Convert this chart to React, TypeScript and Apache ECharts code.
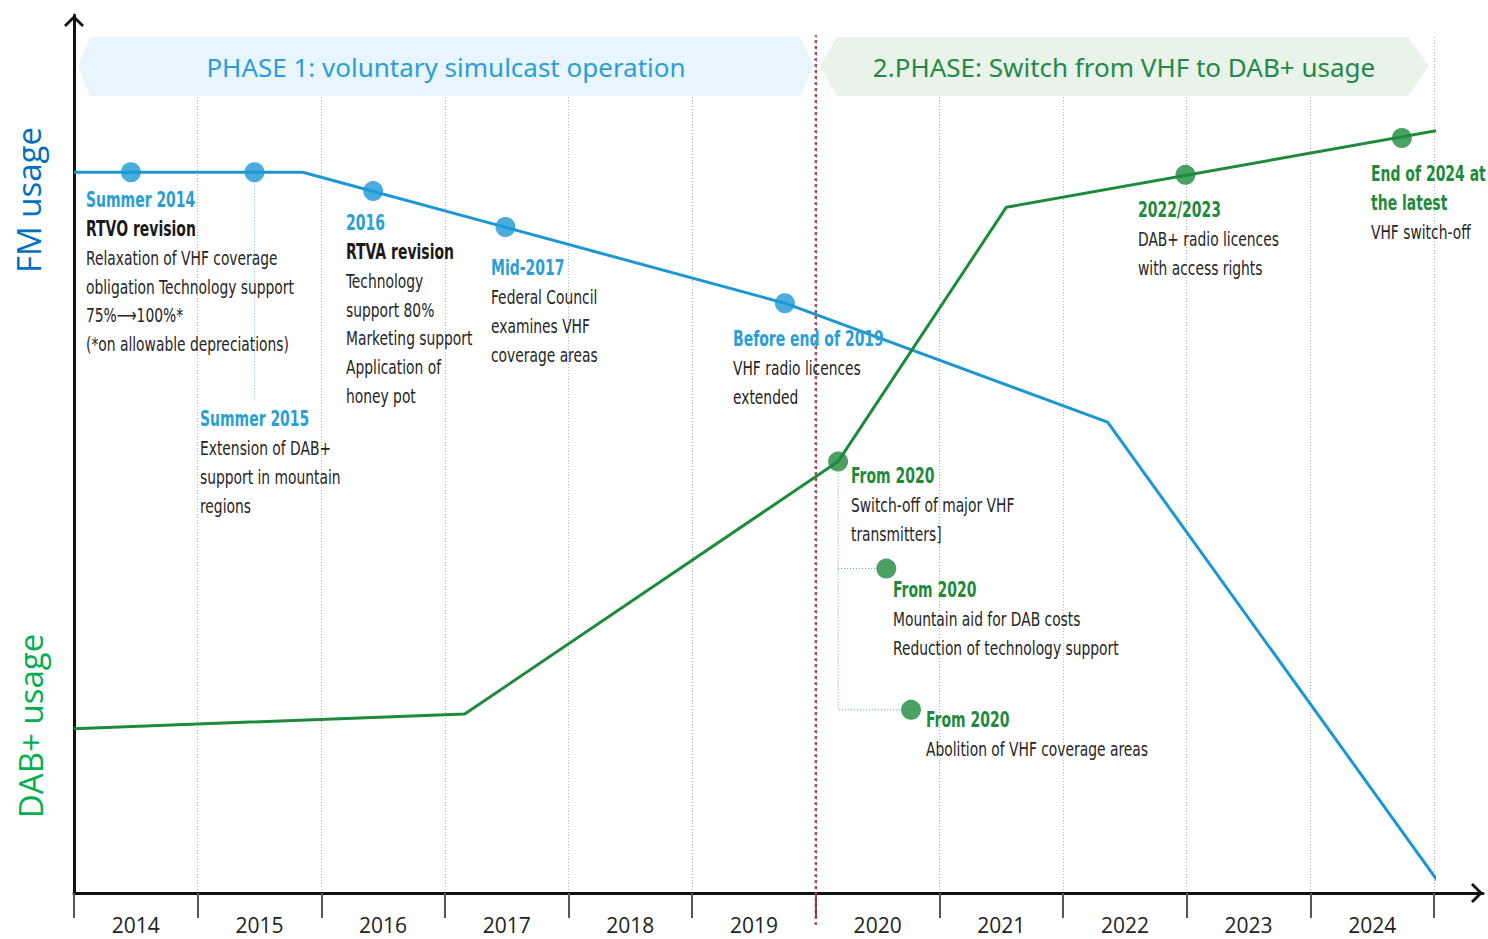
import React, { useEffect, useRef } from "react";
import * as echarts from "echarts";

// ---------- data ----------
const years = ["2014", "2015", "2016", "2017", "2018", "2019", "2020", "2021", "2022", "2023", "2024"];

// FM usage curve [year, level]
const fmLine = [
  [2014.0, 84.2],
  [2015.85, 84.2],
  [2019.75, 68.9],
  [2022.36, 55.0],
  [2025.04, 1.2],
];
// DAB+ usage curve [year, level]
const dabLine = [
  [2014.0, 19.2],
  [2017.16, 20.9],
  [2020.18, 50.4],
  [2021.54, 80.1],
  [2025.15, 89.4],
];
const fmMilestones = [
  [2014.46, 84.2],
  [2015.46, 84.2],
  [2016.42, 82.0],
  [2017.49, 77.8],
  [2019.75, 68.9],
];
const dabMilestones = [
  [2020.18, 50.4],
  [2020.57, 37.9],
  [2020.77, 21.4],
  [2022.99, 83.9],
  [2024.74, 88.2],
];
const fmConnector = [
  [2015.46, 84.2],
  [2015.46, 57.6],
];
const dabConnectorA = [
  [2020.18, 49.0],
  [2020.18, 21.4],
  [2020.77, 21.4],
];
const dabConnectorB = [
  [2020.18, 37.9],
  [2020.57, 37.9],
];
const phaseSwitchLine = [
  [2020, -3.7],
  [2020, 100.2],
];

const phase1Text = "PHASE 1: voluntary simulcast operation";
const phase2Text = "2.PHASE: Switch from VHF to DAB+ usage";
const fmAxisText = "FM usage";
const dabAxisText = "DAB+ usage";

type Note = { title: string[]; subtitle?: string; body: string[]; tone: "fm" | "dab"; x: number; y: number };
const notes: Note[] = [
  { title: ["Summer 2014"], subtitle: "RTVO revision", body: ["Relaxation of VHF coverage", "obligation Technology support", "75%\u27F6100%*", "(*on allowable depreciations)"], tone: "fm", x: 86, y: 200 },
  { title: ["2016"], subtitle: "RTVA revision", body: ["Technology", "support 80%", "Marketing support", "Application of", "honey pot"], tone: "fm", x: 346, y: 223 },
  { title: ["Mid-2017"], body: ["Federal Council", "examines VHF", "coverage areas"], tone: "fm", x: 491, y: 268 },
  { title: ["Before end of 2019"], body: ["VHF radio licences", "extended"], tone: "fm", x: 733, y: 339 },
  { title: ["Summer 2015"], body: ["Extension of DAB+", "support in mountain", "regions"], tone: "fm", x: 200, y: 419 },
  { title: ["From 2020"], body: ["Switch-off of major VHF", "transmitters]"], tone: "dab", x: 851, y: 476 },
  { title: ["From 2020"], body: ["Mountain aid for DAB costs", "Reduction of technology support"], tone: "dab", x: 893, y: 590 },
  { title: ["From 2020"], body: ["Abolition of VHF coverage areas"], tone: "dab", x: 926, y: 720 },
  { title: ["2022/2023"], body: ["DAB+ radio licences", "with access rights"], tone: "dab", x: 1138, y: 210 },
  { title: ["End of 2024 at", "the latest"], body: ["VHF switch-off"], tone: "dab", x: 1371, y: 174 },
];

// ---------- styles ----------
const FM_BLUE = "#1b97d4";
const DAB_GREEN = "#1e8a3c";
const HEAD_BLUE = "#2a9ed6";
const BODY = "#262626";
const NARROW = "'Liberation Sans Narrow', 'DejaVu Sans Condensed', sans-serif";
const LINE_H = 28.8;
const HEAD_SQUEEZE = 0.74;
const BODY_SQUEEZE = 0.77;
const chevron = "path://M0,10 L10,0 L20,10 L18,12 L10,4 L2,12 Z";

function buildNoteGraphics() {
  const els: any[] = [];
  notes.forEach((n) => {
    let row = 0;
    const headColor = n.tone === "fm" ? HEAD_BLUE : DAB_GREEN;
    n.title.forEach((t) => {
      els.push({
        type: "text", x: n.x, y: n.y + row * LINE_H, z: 100, scaleX: HEAD_SQUEEZE,
        style: { text: t, fill: headColor, fontFamily: NARROW, fontWeight: "bold", fontSize: 21, align: "left", verticalAlign: "middle" },
      });
      row++;
    });
    if (n.subtitle) {
      els.push({
        type: "text", x: n.x, y: n.y + row * LINE_H, z: 100, scaleX: HEAD_SQUEEZE,
        style: { text: n.subtitle, fill: "#1a1a1a", fontFamily: NARROW, fontWeight: "bold", fontSize: 21, align: "left", verticalAlign: "middle" },
      });
      row++;
    }
    n.body.forEach((t) => {
      els.push({
        type: "text", x: n.x, y: n.y + row * LINE_H, z: 100, scaleX: BODY_SQUEEZE,
        style: { text: t, fill: BODY, fontFamily: NARROW, fontSize: 20, align: "left", verticalAlign: "middle" },
      });
      row++;
    });
  });
  return els;
}

export default function App() {
  const ref = useRef<HTMLDivElement>(null);
  useEffect(() => {
    if (!ref.current) return;
    const chart = echarts.init(ref.current, undefined, { renderer: "svg" });
    const option: any = {
      animation: false,
      backgroundColor: "#ffffff",
      grid: [
        { left: 74, right: 54, top: 37, bottom: 46 },
        { left: 74, right: 5, top: 15, bottom: 46 },
      ],
      xAxis: [
        {
          type: "category", gridIndex: 0, data: years, boundaryGap: true,
          axisLine: { show: false },
          axisTick: { show: true, interval: 0, length: 25, lineStyle: { color: "#555", width: 2 } },
          axisLabel: { interval: 0, fontSize: 21, lineHeight: 21, color: "#222", margin: 21, fontFamily: "'Open Sans', 'Noto Sans', sans-serif" },
          splitLine: { show: true, interval: 0, lineStyle: { type: [1, 2], color: "#b0b0b0", width: 1 } },
        },
        { type: "value", gridIndex: 0, min: 2014, max: 2025, show: false },
        {
          type: "value", gridIndex: 1, min: 0, max: 1,
          axisLine: { show: true, symbol: ["none", chevron], symbolSize: [20, 12], symbolOffset: [0, -6], lineStyle: { color: "#111", width: 3 } },
          axisTick: { show: false }, axisLabel: { show: false }, splitLine: { show: false },
        },
      ],
      yAxis: [
        { type: "value", gridIndex: 0, min: 0, max: 100, show: false },
        {
          type: "value", gridIndex: 1, min: 0, max: 1,
          axisLine: { show: true, symbol: ["none", chevron], symbolSize: [20, 12], symbolOffset: [0, -6], lineStyle: { color: "#111", width: 3 } },
          axisTick: { show: false }, axisLabel: { show: false }, splitLine: { show: false },
        },
      ],
      series: [
        {
          type: "line", xAxisIndex: 1, yAxisIndex: 0, data: phaseSwitchLine, symbol: "none", clip: false, z: 3,
          lineStyle: { color: "#b03040", width: 2.5, type: [2.5, 3.5] },
        },
        {
          type: "line", xAxisIndex: 1, yAxisIndex: 0, data: fmConnector, symbol: "none", clip: false, z: 3,
          lineStyle: { color: "#7fc4e6", width: 1, type: [1, 2] },
        },
        {
          type: "line", xAxisIndex: 1, yAxisIndex: 0, data: dabConnectorA, symbol: "none", clip: false, z: 3,
          lineStyle: { color: "#5aa870", width: 1, type: [1, 2] },
        },
        {
          type: "line", xAxisIndex: 1, yAxisIndex: 0, data: dabConnectorB, symbol: "none", clip: false, z: 3,
          lineStyle: { color: "#5aa870", width: 1, type: [1, 2] },
        },
        {
          name: "FM usage", type: "line", xAxisIndex: 1, yAxisIndex: 0, data: fmLine, symbol: "none", clip: false, z: 4,
          lineStyle: { color: FM_BLUE, width: 3 },
        },
        {
          name: "DAB+ usage", type: "line", xAxisIndex: 1, yAxisIndex: 0, data: dabLine, symbol: "none", clip: false, z: 4,
          lineStyle: { color: DAB_GREEN, width: 3 },
        },
        {
          type: "scatter", xAxisIndex: 1, yAxisIndex: 0, data: fmMilestones, symbol: "circle", symbolSize: 20, clip: false, z: 5,
          itemStyle: { color: FM_BLUE },
        },
        {
          type: "scatter", xAxisIndex: 1, yAxisIndex: 0, data: dabMilestones, symbol: "circle", symbolSize: 20, clip: false, z: 5,
          itemStyle: { color: DAB_GREEN },
        },
      ],
      graphic: [
        {
          type: "polygon", z: 1, silent: true,
          shape: { points: [[90, 37], [800, 37], [814, 66], [800, 96], [90, 96], [78, 66]] },
          style: { fill: "#e8f5fd" },
        },
        {
          type: "polygon", z: 1, silent: true,
          shape: { points: [[837, 37], [1408, 37], [1429, 66], [1408, 96], [837, 96], [820, 66]] },
          style: { fill: "#e9f3ea" },
        },
        {
          type: "text", x: 446, y: 67, z: 2,
          style: { text: phase1Text, fill: "#2a9ed6", fontFamily: "'Noto Sans', sans-serif", fontSize: 26, align: "center", verticalAlign: "middle" },
        },
        {
          type: "text", x: 1124, y: 67, z: 2,
          style: { text: phase2Text, fill: "#218a48", fontFamily: "'Noto Sans', sans-serif", fontSize: 26, align: "center", verticalAlign: "middle" },
        },
        {
          type: "text", x: 28, y: 200, rotation: Math.PI / 2, z: 2,
          style: { text: fmAxisText, fill: "#0070c0", fontFamily: "'Open Sans', sans-serif", fontSize: 33, align: "center", verticalAlign: "middle" },
        },
        {
          type: "text", x: 30, y: 726, rotation: Math.PI / 2, z: 2,
          style: { text: dabAxisText, fill: "#00b050", fontFamily: "'Open Sans', sans-serif", fontSize: 33, align: "center", verticalAlign: "middle" },
        },
        ...buildNoteGraphics(),
      ],
    };
    chart.setOption(option);
    return () => chart.dispose();
  }, []);
  return <div ref={ref} style={{ position: "absolute", left: 0, top: 0, width: 1488, height: 939 }} />;
}
